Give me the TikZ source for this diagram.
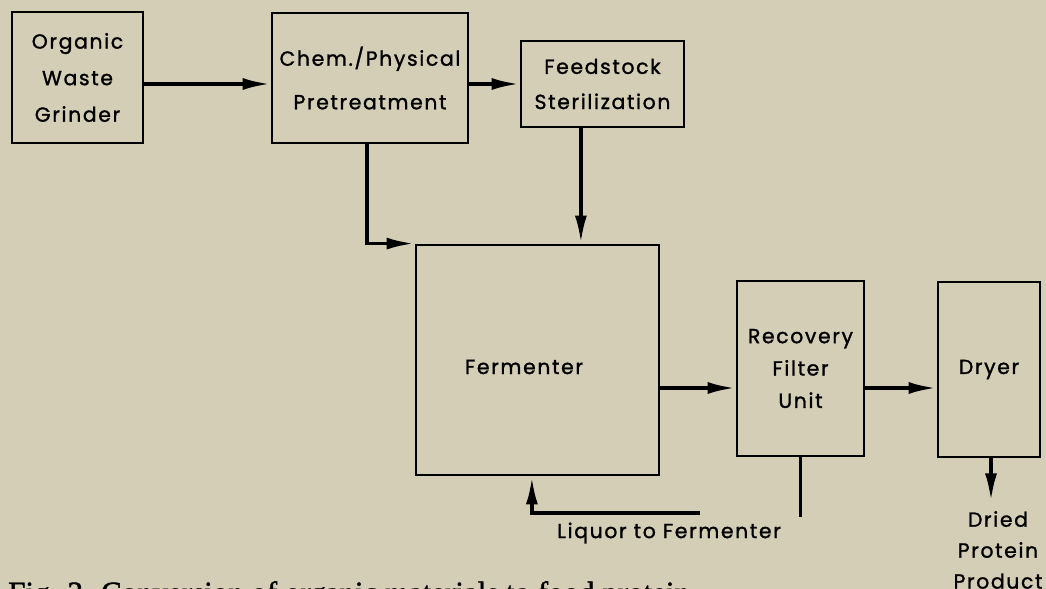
\documentclass[tikz,border=0pt]{standalone}
\usepackage{fontspec}
\setmainfont{Poppins}[LetterSpace=8.0, FakeBold=1.3]
\newfontfamily\capfont{Liberation Serif}[FakeBold=1.5]
\usetikzlibrary{arrows.meta}
\definecolor{paper}{RGB}{212,206,182}
\newcommand{\boxfont}{\fontsize{14.5}{25}\selectfont}

\begin{document}
\begin{tikzpicture}[x=0.025cm,y=-0.025cm,
    blk/.style={draw, line width=2pt, fill=paper, align=center, inner sep=0pt, font=\boxfont},
    txt/.style={align=center, inner sep=0pt, font=\boxfont},
    flow/.style={line width=2.6pt, -{Latex[length=7mm,width=3mm]}}]
    %hintergrund
    \fill[paper] (0,0) rectangle (1046,589);
    \useasboundingbox (0,0) rectangle (1046,589);

    %bloecke
    \node[blk, minimum width=3.275cm, minimum height=3.275cm] (grind) at (77.5,77.5) {Organic\\[1pt]Waste\\[1pt]Grinder};
    \node[blk, minimum width=4.9cm, minimum height=3.25cm] (chem) at (370,78) {Chem./Physical\\[6pt]Pretreatment};
    \node[blk, minimum width=4.075cm, minimum height=2.15cm] (feed) at (602.5,84) {Feedstock\\Sterilization};
    \node[blk, minimum width=6.075cm, minimum height=5.75cm] (ferm) at (537.5,360) {};
    \node[txt] (fermtxt) at (524,367) {Fermenter};
    \node[blk, minimum width=3.175cm, minimum height=4.375cm] (rec) at (800.5,368.5) {Recovery\\[-2pt]Filter\\[-2pt]Unit};
    \node[blk, minimum width=2.55cm, minimum height=4.375cm] (dryer) at (989,369.5) {Dryer};
    \node[txt, font=\fontsize{14.5}{22}\selectfont] (prod) at (998,550) {Dried\\Protein\\Product};
    \node[txt] (liq) at (669,533) {Liquor to Fermenter};

    %verbindungen
    \coordinate (y1) at (0,84);
    \coordinate (y2) at (0,388);
    \coordinate (fd) at ([xshift=-5.4mm]feed.south);
    \coordinate (lq) at (700,513);
    \draw[flow] (grind.east |- y1) -- (chem.west |- y1);
    \draw[flow] (chem.east |- feed) -- (feed.west);
    \draw[flow] ([xshift=-0.08cm]chem.south) |- (ferm.north west);
    \draw[flow] (fd) -- (fd |- ferm.north);
    \draw[flow] (ferm.east |- y2) -- (rec.west |- y2);
    \draw[flow] (rec.east |- y2) -- (dryer.west |- y2);
    \draw[flow] ([xshift=0.05cm]dryer.south) -- ++(0,43);
    \draw[line width=2.6pt] (rec.south) -- ++(0,60); %ruecklauf
    \draw[flow] (lq) -| ([xshift=-0.14cm]ferm.south);

    %bildunterschrift
    \node[anchor=base west, inner sep=0pt, font=\capfont\fontsize{22}{26}\selectfont] (cap) at (8,603) {Fig. 3. Conversion of organic materials to food protein};
\end{tikzpicture}
\end{document}
